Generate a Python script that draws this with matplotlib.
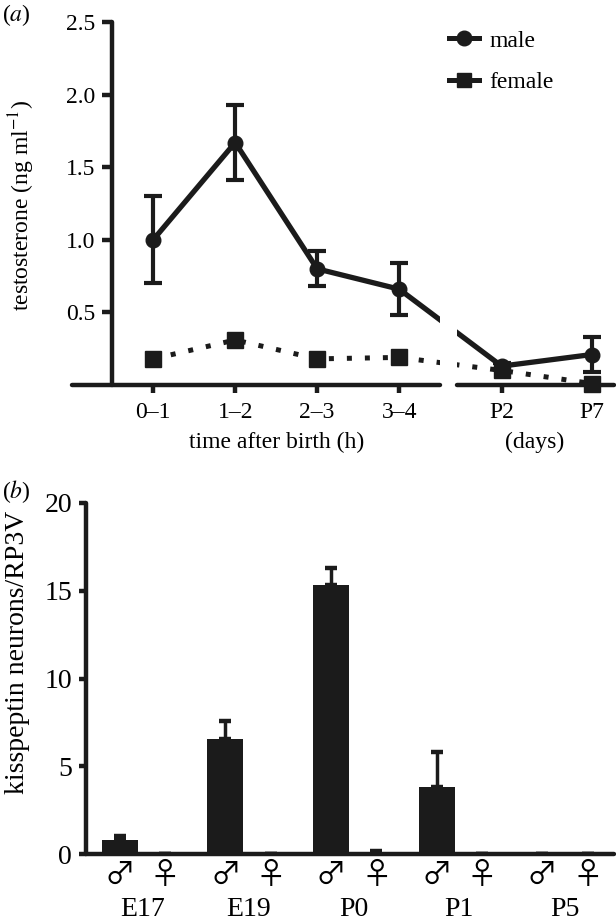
import matplotlib
matplotlib.use("Agg")
import matplotlib.pyplot as plt
from matplotlib.lines import Line2D
import matplotlib.transforms as mtransforms
import numpy as np

# ---- data: panel (a) testosterone ----
time_labels = ["0–1", "1–2", "2–3", "3–4", "P2", "P7"]
male_mean = [1.00, 1.67, 0.80, 0.66, 0.13, 0.21]
male_sem = [0.30, 0.26, 0.12, 0.18, 0.02, 0.12]
female_mean = [0.18, 0.31, 0.18, 0.19, 0.10, 0.01]

# ---- data: panel (b) kisspeptin neurons ----
ages = ["E17", "E19", "P0", "P1", "P5"]
kiss_male = [0.8, 6.55, 15.3, 3.8, 0.0]
kiss_male_err = [0.2, 1.0, 1.0, 2.0, 0.0]
kiss_female = [0.0, 0.0, 0.1, 0.0, 0.0]
kiss_female_err = [0.0, 0.0, 0.05, 0.0, 0.0]

INK = "#1b1b1b"
plt.rcParams["font.family"] = ["Liberation Serif", "DejaVu Serif", "DejaVu Sans"]
plt.rcParams["mathtext.fontset"] = "stix"
FA = 17   # panel (a) text size
FB = 20   # panel (b) text size

W, H = 616, 924
fig = plt.figure(figsize=(W / 100, H / 100), dpi=100)


def px_box(left, right, top, bottom):
    return [left / W, 1 - bottom / H, (right - left) / W, (bottom - top) / H]


# ================= panel (a) =================
ax = fig.add_axes(px_box(72, 614, 22, 385))
xpos = [0, 1, 2, 3, 4.25, 5.35]
brk = (3.5, 3.7)
ax.set_xlim(-0.99, 5.62)
ax.set_ylim(0, 2.5)

ax.plot(xpos, female_mean, color=INK, lw=3.6, ls=(0, (1.0, 2.6)),
        marker="s", ms=11, mec=INK, mfc=INK, clip_on=False, zorder=3)
ax.errorbar(xpos, male_mean, yerr=male_sem, color=INK, lw=3.8, marker="o",
            ms=10.5, capsize=6.5, capthick=3, elinewidth=3, zorder=4,
            clip_on=False)

# axis break
ax.axvspan(brk[0], brk[1], color="white", zorder=5, lw=0)
for a, b in [(-0.99, brk[0]), (brk[1], 5.62)]:
    ax.plot([a, b], [0, 0], color=INK, lw=3.2, solid_capstyle="round",
            clip_on=False, zorder=6)

for s in ["top", "right", "bottom"]:
    ax.spines[s].set_visible(False)
ax.spines["left"].set_position(("data", -0.5))
ax.spines["left"].set_bounds(0, 2.5)
ax.spines["left"].set_linewidth(3.2)
ax.spines["left"].set_color(INK)
ax.spines["left"].set_capstyle("round")

ax.set_yticks([0.5, 1.0, 1.5, 2.0, 2.5])
ax.set_yticklabels(["0.5", "1.0", "1.5", "2.0", "2.5"])
ax.set_xticks(xpos)
ax.set_xticklabels(time_labels)
ax.tick_params(axis="y", direction="out", length=7, width=3.2, color=INK,
               pad=5, labelsize=FA)
ax.tick_params(axis="x", direction="out", length=6, width=3.2, color=INK,
               pad=6, labelsize=FA)

handles = [Line2D([], [], color=INK, lw=3.6, marker="o", ms=10.5),
           Line2D([], [], color=INK, lw=3.6, marker="s", ms=10.5)]
fig.legend(handles, ["male", "female"], loc="upper left",
           bbox_to_anchor=(449 / W, 1 - 30 / H), frameon=False,
           handlelength=1.25, handletextpad=0.45, labelspacing=0.85,
           borderpad=0, borderaxespad=0, fontsize=FA)

fig.text(22 / W, 1 - 205 / H, "testosterone (ng ml$^{-1}$)", rotation=90,
         ha="center", va="center", fontsize=FA)
fig.text(277 / W, 1 - 442 / H, "time after birth (h)", ha="center",
         va="center", fontsize=FA)
fig.text(535 / W, 1 - 442 / H, "(days)", ha="center", va="center", fontsize=FA)
fig.text(2 / W, 1 - 15 / H, "($\\it{a}$)", ha="left", va="center", fontsize=FA)

# ================= panel (b) =================
bx = fig.add_axes(px_box(86, 614, 503, 854))
g = np.arange(len(ages))
off = 0.43
bw = 0.34
bx.bar(g, kiss_male, width=bw, color=INK, zorder=2)
bx.bar(g + off, kiss_female, width=bw, color=INK, zorder=2)
bx.errorbar(g, kiss_male, yerr=[np.zeros(len(ages)), kiss_male_err], fmt="none",
            ecolor=INK, elinewidth=2.5, capsize=4.5, capthick=3.2, zorder=3)
bx.errorbar(g + off, kiss_female, yerr=[np.zeros(len(ages)), kiss_female_err],
            fmt="none", ecolor=INK, elinewidth=2.5, capsize=4.5, capthick=3.2,
            zorder=3)
bx.set_xlim(-0.32, 4.68)
bx.set_ylim(0, 20)

for s in ["top", "right"]:
    bx.spines[s].set_visible(False)
for s in ["left", "bottom"]:
    bx.spines[s].set_linewidth(3.2)
    bx.spines[s].set_color(INK)
    bx.spines[s].set_capstyle("round")

bx.set_yticks([0, 5, 10, 15, 20])
bx.tick_params(axis="y", direction="out", length=5, width=3.2, color=INK,
               pad=5, labelsize=FB)
sym_pos = np.concatenate([g, g + off])
sym_lab = ["♂"] * len(ages) + ["♀"] * len(ages)
bx.set_xticks(sym_pos)
bx.set_xticklabels(sym_lab)
bx.tick_params(axis="x", length=0, pad=4, labelsize=22)
for t in bx.get_xticklabels():
    t.set_fontfamily(["Noto Sans CJK JP", "DejaVu Sans"])

trans = mtransforms.blended_transform_factory(bx.transData, bx.transAxes)
for i, lab in enumerate(ages):
    bx.text(g[i] + off / 2, -(910 - 854) / 351, lab, transform=trans,
            ha="center", va="center", fontsize=FB)

fig.text(18 / W, 1 - 652 / H, "kisspeptin neurons/RP3V", rotation=90,
         ha="center", va="center", fontsize=FB)
fig.text(2 / W, 1 - 492 / H, "($\\it{b}$)", ha="left", va="center", fontsize=FA)

fig.savefig("out.png", dpi=100)
